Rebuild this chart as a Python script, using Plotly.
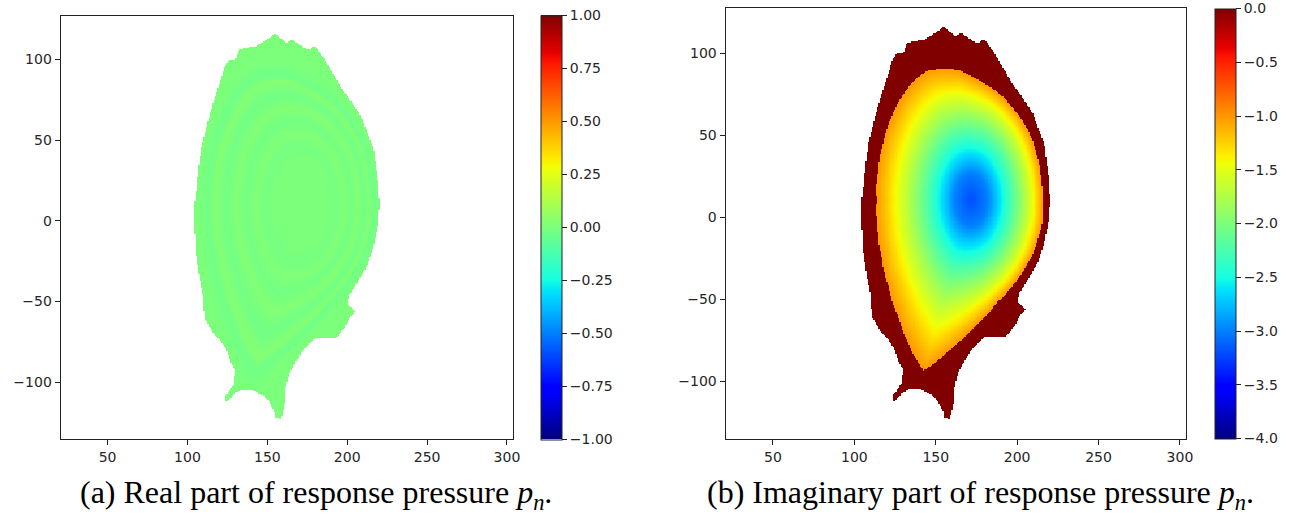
import numpy as np
import plotly.graph_objects as go

# ---------------- data ----------------
# outer boundary of the computational domain (R, Z)
OUTER_R = [155.1, 149.4, 143.3, 135.1, 132.1, 130.0, 126.0, 123.0, 121.0, 116.8, 112.8, 108.7,
           106.7, 105.6, 104.6, 104.0, 105.0, 105.6, 107.7, 109.7, 110.7, 113.8, 116.8, 121.0,
           125.0, 127.0, 130.0, 129.0, 127.0, 124.0, 123.3, 126.0, 129.0, 133.1, 141.2, 147.4,
           151.4, 154.5, 154.5, 158.5, 159.6, 161.2, 161.6, 163.6, 165.7, 168.7, 171.8, 175.8,
           179.9, 193.1, 198.2, 201.3, 205.4, 203.3, 200.3, 201.3, 206.4, 212.5, 216.5, 219.6,
           220.2, 219.6, 216.5, 212.5, 209.4, 204.3, 198.2, 192.1, 186.0, 180.9, 178.9, 175.8,
           171.8, 165.7, 161.6, 159.6]
OUTER_Z = [116.1, 112.1, 108.4, 107.0, 106.0, 99.9, 99.9, 94.8, 87.7, 75.5, 61.3, 45.1,
           30.9, 18.7, 10.6, 0.4, -9.7, -21.9, -36.1, -46.3, -60.5, -65.6, -70.7, -74.7,
           -80.8, -87.9, -93.0, -101.1, -104.2, -108.2, -112.3, -111.3, -107.2, -105.2, -105.2, -108.2,
           -112.3, -118.4, -122.4, -123.0, -119.4, -111.3, -103.1, -95.0, -91.0, -85.9, -80.8, -76.8,
           -72.7, -72.7, -66.6, -60.5, -56.4, -54.4, -51.4, -46.3, -38.2, -28.0, -15.8, -1.6,
           10.6, 22.7, 45.1, 55.2, 63.4, 71.5, 79.6, 89.7, 99.9, 107.0, 108.4, 106.0,
           108.0, 112.1, 110.4, 112.1]

# last closed flux surface (R, Z)
LCFS_R = [153.5, 145.3, 137.2, 129.0, 123.0, 117.8, 114.8, 113.8, 114.4, 116.8, 121.0, 127.0,
          133.1, 138.2, 142.5, 149.4, 157.5, 167.7, 177.9, 188.1, 198.2, 206.4, 212.5, 215.5,
          214.5, 211.5, 206.4, 198.2, 186.0, 173.8, 163.6]
LCFS_Z = [90.4, 89.3, 83.7, 73.5, 61.3, 45.1, 28.8, 10.6, -5.7, -24.0, -42.2, -60.5,
          -76.8, -86.9, -93.4, -88.9, -81.8, -72.7, -62.5, -51.4, -40.2, -28.0, -13.8, 6.5,
          22.7, 39.0, 53.2, 65.4, 77.6, 84.7, 89.7]

# magnetic axis and core (elliptic) surface half-widths
AXIS_R = 171.8
AXIS_Z = 10.6
CORE_HALF_R = 50.0
CORE_HALF_Z = 80.0

# imaginary part vs normalised radius inside the LCFS
IMAG_RHO = [0.0, 0.2, 0.4, 0.6, 0.8, 0.9, 1.0]
IMAG_VAL = [-3.2, -3.0, -2.5, -2.0, -1.5, -1.25, -1.0]
IMAG_OUTSIDE = 0.0

# real part vs normalised radius (nearly zero with faint rings)
REAL_RHO = [0.0, 0.35, 0.45, 0.55, 0.65, 0.75, 0.85, 0.95, 1.0, 1.1, 1.3, 3.0]
REAL_VAL = [0.0, 0.0, -0.015, 0.01, -0.02, 0.015, -0.025, 0.02, -0.03, 0.0, 0.0, 0.0]

X_TICKS = [50, 100, 150, 200, 250, 300]
Y_TICKS = [-100, -50, 0, 50, 100]
CB_REAL_TICKS = [-1.0, -0.75, -0.5, -0.25, 0.0, 0.25, 0.5, 0.75, 1.0]
CB_IMAG_TICKS = [-4.0, -3.5, -3.0, -2.5, -2.0, -1.5, -1.0, -0.5, 0.0]
CAPTION_A = "(a) Real part of response pressure <i>p</i><sub><i>n</i></sub>."
CAPTION_B = "(b) Imaginary part of response pressure <i>p</i><sub><i>n</i></sub>."

# ---------------- field construction ----------------
R = np.arange(100.0, 224.0, 0.8)
Z = np.arange(-126.0, 119.0, 0.8)
RR, ZZ = np.meshgrid(R, Z)


def inside(px, py, vx, vy):
    vx = np.asarray(vx); vy = np.asarray(vy)
    res = np.zeros(px.shape, dtype=bool)
    n = len(vx)
    j = n - 1
    for i in range(n):
        xi, yi, xj, yj = vx[i], vy[i], vx[j], vy[j]
        cond = ((yi > py) != (yj > py)) & (px < (xj - xi) * (py - yi) / (yj - yi + 1e-12) + xi)
        res ^= cond
        j = i
    return res


th = np.arctan2(ZZ - AXIS_Z, RR - AXIS_R)
rr = np.hypot(ZZ - AXIS_Z, RR - AXIS_R)
thb = np.arctan2(np.array(LCFS_Z) - AXIS_Z, np.array(LCFS_R) - AXIS_R)
rb = np.hypot(np.array(LCFS_Z) - AXIS_Z, np.array(LCFS_R) - AXIS_R)
order = np.argsort(thb)
thb, rb = thb[order], rb[order]
thb_e = np.concatenate([[thb[-1] - 2 * np.pi], thb, [thb[0] + 2 * np.pi]])
rb_e = np.concatenate([[rb[-1]], rb, [rb[0]]])
B = np.interp(th, thb_e, rb_e)
E = 1.0 / np.sqrt((np.cos(th) / CORE_HALF_R) ** 2 + (np.sin(th) / CORE_HALF_Z) ** 2)

# nested surfaces: elliptic near the axis, LCFS-shaped at the edge
lo = np.zeros_like(rr)
hi = np.full_like(rr, 3.0)
for _ in range(40):
    mid = 0.5 * (lo + hi)
    w = np.clip(mid, 0, 1) ** 2
    f = mid * ((1 - w) * E + w * B)
    big = f > rr
    hi = np.where(big, mid, hi)
    lo = np.where(big, lo, mid)
rho = 0.5 * (lo + hi)
rho_edge = rr / B

core = rho_edge <= 1.0
mask = inside(RR, ZZ, OUTER_R, OUTER_Z) | core

z_imag = np.where(core, np.interp(rho, IMAG_RHO, IMAG_VAL), IMAG_OUTSIDE)
z_imag = np.where(mask, z_imag, np.nan)
z_real = np.where(mask, np.interp(np.where(core, rho, rho_edge), REAL_RHO, REAL_VAL), np.nan)

# matplotlib "jet" colormap
def jet_scale():
    red = [(0, 0), (0.35, 0), (0.66, 1), (0.89, 1), (1, 0.5)]
    green = [(0, 0), (0.125, 0), (0.375, 1), (0.64, 1), (0.91, 0), (1, 0)]
    blue = [(0, 0.5), (0.11, 1), (0.34, 1), (0.65, 0), (1, 0)]
    pts = sorted(set([p for seg in (red, green, blue) for p, _ in seg]))
    out = []
    for p in pts:
        c = [np.interp(p, [a for a, _ in s], [b for _, b in s]) for s in (red, green, blue)]
        out.append([p, "rgb(%d,%d,%d)" % tuple(int(round(v * 255)) for v in c)])
    return out

JET = jet_scale()
W, H = 1309, 519
TICK_FONT = dict(family="DejaVu Sans", size=14, color="#262626")


def fmt(v, d):
    s = f"{abs(v):.{d}f}"
    return ("\u2212" + s) if v < 0 else s


fig = go.Figure()
fig.add_trace(go.Heatmap(
    x=R, y=Z, z=z_real, zmin=-1, zmax=1, colorscale=JET, xaxis="x", yaxis="y",
    hoverinfo="skip",
    colorbar=dict(x=544 / W, xanchor="left", xpad=0, ypad=0,
                  y=1 - 227.5 / H, yanchor="middle", len=423.6, lenmode="pixels",
                  thickness=21, thicknessmode="pixels", outlinewidth=1, outlinecolor="#222",
                  ticks="outside", ticklen=5, tickcolor="#222", tickfont=TICK_FONT,
                  tickvals=CB_REAL_TICKS, ticktext=[fmt(v, 2) for v in CB_REAL_TICKS]),
))
fig.add_trace(go.Heatmap(
    x=R, y=Z, z=z_imag, zmin=-4, zmax=0, colorscale=JET, xaxis="x2", yaxis="y2",
    hoverinfo="skip",
    colorbar=dict(x=1222.7 / W, xanchor="left", xpad=0, ypad=0,
                  y=1 - 223.5 / H, yanchor="middle", len=430.4, lenmode="pixels",
                  thickness=21, thicknessmode="pixels", outlinewidth=1, outlinecolor="#222",
                  ticks="outside", ticklen=5, tickcolor="#222", tickfont=TICK_FONT,
                  tickvals=CB_IMAG_TICKS, ticktext=[fmt(v, 1) for v in CB_IMAG_TICKS]),
))

axis_common = dict(showgrid=False, zeroline=False, showline=True, mirror=True,
                   linecolor="#222", linewidth=1, ticks="outside", ticklen=5,
                   tickcolor="#222", tickfont=TICK_FONT)

fig.update_layout(
    width=W, height=H, margin=dict(l=0, r=0, t=0, b=0),
    paper_bgcolor="white", plot_bgcolor="white", showlegend=False,
    xaxis=dict(domain=[61 / W, 515.7 / W], range=[20.6, 303.5], tickvals=X_TICKS,
               ticktext=[str(v) for v in X_TICKS], anchor="y", **axis_common),
    yaxis=dict(domain=[1 - 439.3 / H, 1 - 15.7 / H], range=[-135.4, 127.2], tickvals=Y_TICKS,
               ticktext=[fmt(v, 0) for v in Y_TICKS], anchor="x", **axis_common),
    xaxis2=dict(domain=[730 / W, 1193.3 / W], range=[20.9, 303.7], tickvals=X_TICKS,
                ticktext=[str(v) for v in X_TICKS], anchor="y2", **axis_common),
    yaxis2=dict(domain=[1 - 439.3 / H, 1 - 8.3 / H], range=[-135.4, 127.3], tickvals=Y_TICKS,
                ticktext=[fmt(v, 0) for v in Y_TICKS], anchor="x2", **axis_common),
    annotations=[
        dict(text=CAPTION_A, x=318 / W, y=1 - 494 / H, xref="paper", yref="paper",
             xanchor="center", yanchor="middle", showarrow=False,
             font=dict(family="Liberation Serif", size=32, color="black")),
        dict(text=CAPTION_B, x=987 / W, y=1 - 494 / H, xref="paper", yref="paper",
             xanchor="center", yanchor="middle", showarrow=False,
             font=dict(family="Liberation Serif", size=32, color="black")),
    ],
)

fig.write_html("out.html")
